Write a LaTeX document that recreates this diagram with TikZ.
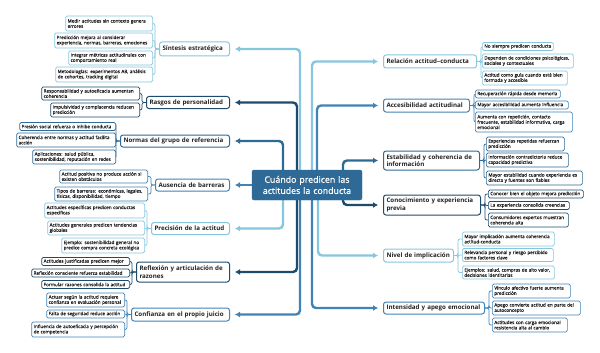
\documentclass[tikz,border=0pt]{standalone}
\usepackage{fontspec}
\setmainfont{Open Sans}
\newfontfamily\leaffont{Open Sans}[FakeBold=0.5]
\newfontfamily\rootfont{Open Sans}[FakeBold=0.7]
\usetikzlibrary{arrows.meta,calc,backgrounds}
\definecolor{cA}{HTML}{86C6DE}
\definecolor{cB}{HTML}{4283B6}
\definecolor{cC}{HTML}{2E6A96}
\definecolor{cD}{HTML}{1D4B6D}
\definecolor{rootfill}{HTML}{2F6A96}
\definecolor{txt}{HTML}{222222}
\begin{document}
\begin{tikzpicture}[x=1pt,y=-1pt,
 leaf/.style={draw=#1, rounded corners=1.5pt, fill=white, line width=0.7pt, text=txt, font=\leaffont\fontsize{4.6}{5.3}\selectfont, align=left, inner xsep=2pt, inner ysep=0pt},
 mainbox/.style={draw=#1, rounded corners=2.5pt, fill=white, line width=1pt, text=txt, font=\bfseries\fontsize{6.2}{7.6}\selectfont, align=left, inner xsep=3pt, inner ysep=0pt},
 rootbox/.style={fill=rootfill, draw=rootfill, rounded corners=2pt, text=white, font=\rootfont\fontsize{8.8}{11.2}\selectfont, align=center, inner sep=0pt},
 conn/.style={draw=#1, line width=2.4pt, rounded corners=4pt, -{Latex[length=5pt,width=6pt]}, shorten >=5pt},
 brk/.style={draw=#1, line width=0.7pt, rounded corners=2pt},
]
\useasboundingbox (0,0) rectangle (600,353);

% root
\node[rootbox, minimum width=110pt, minimum height=30pt, text width=108pt] (root) at (307,185) {Cuándo predicen las\\actitudes la conducta};

% left main nodes
\node[mainbox=cA, anchor=east, text width=64pt, minimum height=14pt] (S) at (230,49) {Síntesis estratégica};
\node[mainbox=cD, anchor=east, text width=77pt, minimum height=12pt] (R) at (230,102.5) {Rasgos de personalidad};
\node[mainbox=cC, anchor=east, text width=103pt, minimum height=12pt] (N) at (230,141) {Normas del grupo de referencia};
\node[mainbox=cB, anchor=east, text width=68pt, minimum height=12pt] (A) at (230,185) {Ausencia de barreras};
\node[mainbox=cA, anchor=east, text width=72pt, minimum height=12pt] (P) at (230,228.5) {Precisión de la actitud};
\node[mainbox=cD, anchor=east, text width=87pt, minimum height=20pt] (F) at (230,272) {Reflexión y articulación de\\razones};
\node[mainbox=cB, anchor=east, text width=92pt, minimum height=13pt] (C) at (230,314.5) {Confianza en el propio juicio};

% right main nodes
\node[mainbox=cA, anchor=west, text width=87pt, minimum height=13pt] (L) at (383,61.5) {Relación actitud–conducta};
\node[mainbox=cB, anchor=west, text width=80pt, minimum height=13pt] (K) at (383,105.5) {Accesibilidad actitudinal};
\node[mainbox=cC, anchor=west, text width=90pt, minimum height=19pt] (E) at (383,160.5) {Estabilidad y coherencia de\\información};
\node[mainbox=cD, anchor=west, text width=91pt, minimum height=20pt] (O) at (383,205) {Conocimiento y experiencia\\previa};
\node[mainbox=cA, anchor=west, text width=64pt, minimum height=13pt] (V) at (383,255.5) {Nivel de implicación};
\node[mainbox=cB, anchor=west, text width=95pt, minimum height=12pt] (I) at (383,308) {Intensidad y apego emocional};

% left leaves
\node[leaf=cA, anchor=east, text width=83pt, minimum height=15pt] (S1) at (153,23.5) {Medir actitudes sin contexto genera\\errores};
\node[leaf=cA, anchor=east, text width=94pt, minimum height=15pt] (S2) at (153,40.5) {Predicción mejora al considerar\\experiencia, normas, barreras, emociones};
\node[leaf=cA, anchor=east, text width=80pt, minimum height=14pt] (S3) at (153,58) {Integrar métricas actitudinales con\\comportamiento real};
\node[leaf=cA, anchor=east, text width=93pt, minimum height=15pt] (S4) at (153,74.5) {Metodologías: experimentos AB, análisis\\de cohortes, tracking digital};

\node[leaf=cD, anchor=east, text width=94pt, minimum height=13pt] (R1) at (140,93.5) {Responsabilidad y autoeficacia aumentan\\coherencia};
\node[leaf=cD, anchor=east, text width=85pt, minimum height=14pt] (R2) at (140,110) {Impulsividad y complacencia reducen\\predicción};

\node[leaf=cC, anchor=east, text width=92pt, minimum height=8pt] (N1) at (116,126.5) {Presión social refuerza o inhibe conducta};
\node[leaf=cC, anchor=east, text width=95pt, minimum height=14pt] (N2) at (116,140) {Coherencia entre normas y actitud facilita\\acción};
\node[leaf=cC, anchor=east, text width=79pt, minimum height=14pt] (N3) at (116,157) {Aplicaciones: salud pública,\\sostenibilidad, reputación en redes};

\node[leaf=cB, anchor=east, text width=84pt, minimum height=13pt] (A1) at (148,176.5) {Actitud positiva no produce acción si\\existen obstáculos};
\node[leaf=cB, anchor=east, text width=89pt, minimum height=14pt] (A2) at (148,194) {Tipos de barreras: económicas, legales,\\físicas, disponibilidad, tiempo};

\node[leaf=cA, anchor=east, text width=96pt, minimum height=15pt] (P1) at (145,210.5) {Actitudes específicas predicen conductas\\específicas};
\node[leaf=cA, anchor=east, text width=93pt, minimum height=14pt] (P2) at (145,228) {Actitudes generales predicen tendencias\\globales};
\node[leaf=cA, anchor=east, text width=79pt, minimum height=15pt] (P3) at (145,245.5) {Ejemplo: sostenibilidad general no\\predice compra concreta ecológica};

\node[leaf=cD, anchor=east, text width=84pt, minimum height=8pt] (F1) at (130,261.5) {Actitudes justificadas predicen mejor};
\node[leaf=cD, anchor=east, text width=94pt, minimum height=8pt] (F2) at (130,273) {Reflexión consciente refuerza estabilidad};
\node[leaf=cD, anchor=east, text width=84pt, minimum height=8pt] (F3) at (130,284.5) {Formular razones consolida la actitud};

\node[leaf=cB, anchor=east, text width=74pt, minimum height=14pt] (C1) at (125,300) {Actuar según la actitud requiere\\confianza en evaluación personal};
\node[leaf=cB, anchor=east, text width=74pt, minimum height=8pt] (C2) at (125,314) {Falta de seguridad reduce acción};
\node[leaf=cB, anchor=east, text width=89pt, minimum height=15pt] (C3) at (125,329.5) {Influencia de autoeficacia y percepción\\de competencia};

% right leaves
\node[leaf=cA, anchor=west, text width=67pt, minimum height=8pt] (L1) at (482,46.5) {No siempre predicen conducta};
\node[leaf=cA, anchor=west, text width=87pt, minimum height=14pt] (L2) at (482,61) {Dependen de condiciones psicológicas,\\sociales y contextuales};
\node[leaf=cA, anchor=west, text width=81pt, minimum height=14pt] (L3) at (482,78) {Actitud como guía cuando está bien\\formada y accesible};

\node[leaf=cB, anchor=west, text width=81pt, minimum height=8pt] (K1) at (475,94) {Recuperación rápida desde memoria};
\node[leaf=cB, anchor=west, text width=89pt, minimum height=8pt] (K2) at (475,105) {Mayor accesibilidad aumenta influencia};
\node[leaf=cB, anchor=west, text width=93pt, minimum height=20pt] (K3) at (475,122) {Aumenta con repetición, contacto\\frecuente, estabilidad informativa, carga\\emocional};

\node[leaf=cC, anchor=west, text width=74pt, minimum height=14pt] (E1) at (486,144) {Experiencias repetidas refuerzan\\predicción};
\node[leaf=cC, anchor=west, text width=78pt, minimum height=14pt] (E2) at (486,160) {Información contradictoria reduce\\capacidad predictiva};
\node[leaf=cC, anchor=west, text width=92pt, minimum height=14pt] (E3) at (486,178) {Mayor estabilidad cuando experiencia es\\directa y fuentes son fiables};

\node[leaf=cD, anchor=west, text width=91pt, minimum height=8pt] (O1) at (488,194) {Conocer bien el objeto mejora predicción};
\node[leaf=cD, anchor=west, text width=77pt, minimum height=8pt] (O2) at (488,205.5) {La experiencia consolida creencias};
\node[leaf=cD, anchor=west, text width=76pt, minimum height=14pt] (O3) at (488,220) {Consumidores expertos muestran\\coherencia alta};

\node[leaf=cA, anchor=west, text width=88pt, minimum height=14pt] (V1) at (462,239) {Mayor implicación aumenta coherencia\\actitud-conducta};
\node[leaf=cA, anchor=west, text width=87pt, minimum height=13pt] (V2) at (462,255) {Relevancia personal y riesgo percibido\\como factores clave};
\node[leaf=cA, anchor=west, text width=88pt, minimum height=13pt] (V3) at (462,272.5) {Ejemplos: salud, compras de alto valor,\\decisiones identitarias};

\node[leaf=cB, anchor=west, text width=74pt, minimum height=14pt] (I1) at (492,291) {Vínculo afectivo fuerte aumenta\\predicción};
\node[leaf=cB, anchor=west, text width=84pt, minimum height=14pt] (I2) at (492,308) {Apego convierte actitud en parte del\\autoconcepto};
\node[leaf=cB, anchor=west, text width=71pt, minimum height=14pt] (I3) at (492,325) {Actitudes con carga emocional\\resistencia alta al cambio};

\begin{pgfonlayer}{background}
% main connectors
\draw[conn=cA] ($(root.center)+(-7,0)$) |- (S.east);
\draw[conn=cD] ($(root.center)+(-10,0)$) |- (R.east);
\draw[conn=cC] ($(root.center)+(-24,0)$) |- (N.east);
\draw[conn=cB] (root.west) -- (A.east);
\draw[conn=cA] ($(root.center)+(-24,0)$) |- (P.east);
\draw[conn=cD] ($(root.center)+(-10,0)$) |- (F.east);
\draw[conn=cB] ($(root.center)+(-7,0)$) |- (C.east);
\draw[conn=cA] ($(root.center)+(5,0)$) |- (L.west);
\draw[conn=cB] ($(root.center)+(10,0)$) |- (K.west);
\draw[conn=cC] ($(root.center)+(36,0)$) |- (E.west);
\draw[conn=cD] ($(root.center)+(36,0)$) |- (O.west);
\draw[conn=cA] ($(root.center)+(11,0)$) |- (V.west);
\draw[conn=cB] ($(root.center)+(5,0)$) |- (I.west);
% brackets left
\foreach \m/\c/\l in {S/cA/S1,S/cA/S2,S/cA/S3,S/cA/S4,R/cD/R1,R/cD/R2,N/cC/N1,N/cC/N2,N/cC/N3,A/cB/A1,A/cB/A2,P/cA/P1,P/cA/P2,P/cA/P3,F/cD/F1,F/cD/F2,F/cD/F3,C/cB/C1,C/cB/C2,C/cB/C3}
  \draw[brk=\c] (\m.west) -- ++(-4,0) |- (\l.east);
% brackets right
\foreach \m/\c/\l in {L/cA/L1,L/cA/L2,L/cA/L3,K/cB/K1,K/cB/K2,K/cB/K3,E/cC/E1,E/cC/E2,E/cC/E3,O/cD/O1,O/cD/O2,O/cD/O3,V/cA/V1,V/cA/V2,V/cA/V3,I/cB/I1,I/cB/I2,I/cB/I3}
  \draw[brk=\c] (\m.east) -- ++(4,0) |- (\l.west);
\end{pgfonlayer}
\end{tikzpicture}
\end{document}
